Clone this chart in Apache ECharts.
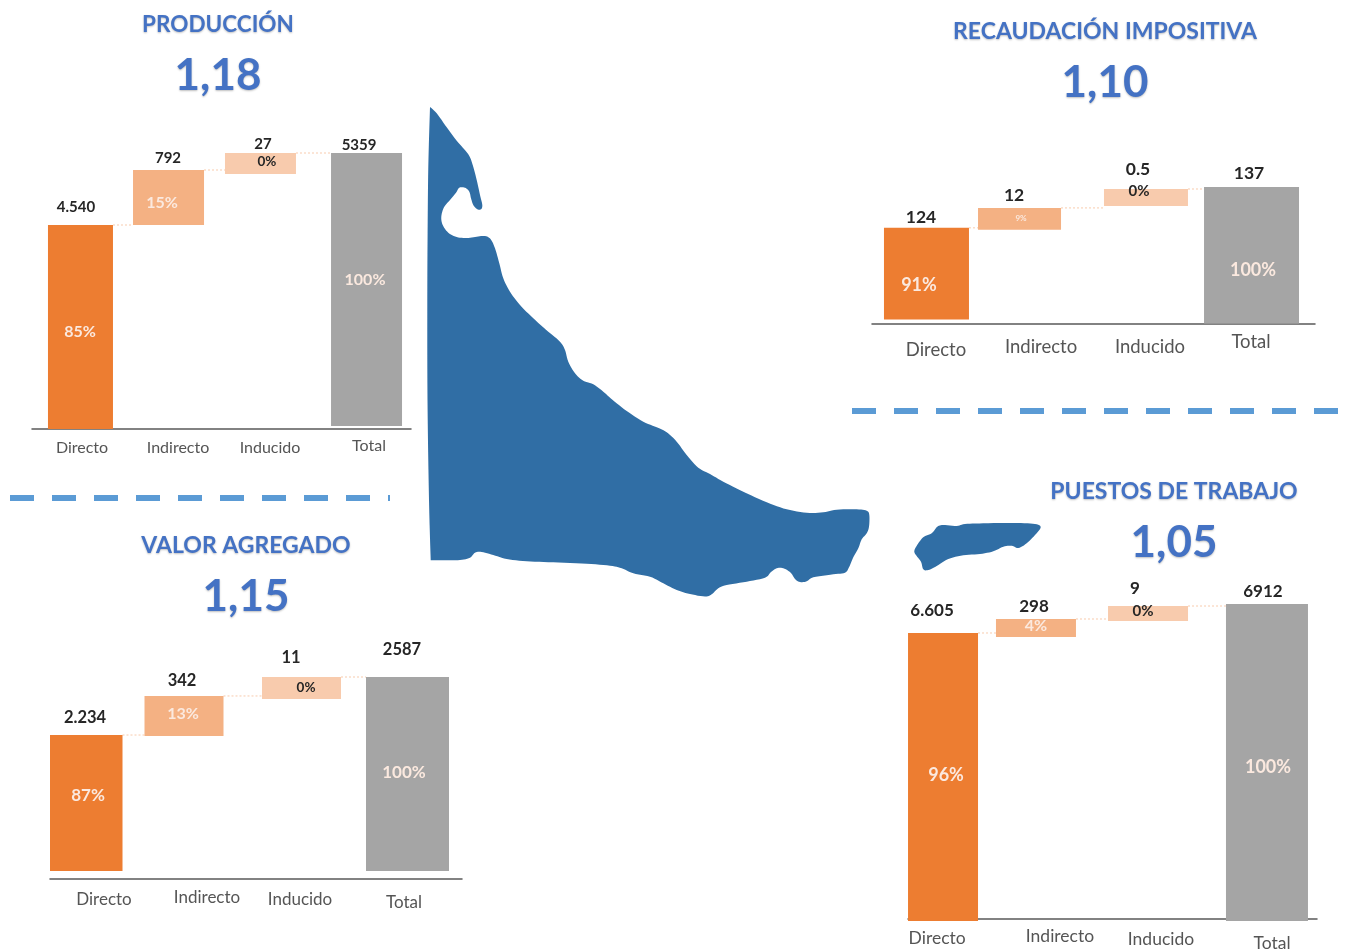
<!DOCTYPE html>
<html>
<head>
<meta charset="utf-8">
<style>html,body{margin:0;padding:0;background:#fff}#main{width:1346px;height:951px;filter:blur(0.35px)}</style>
<script src="https://cdn.jsdelivr.net/npm/echarts@6/dist/echarts.min.js"></script>
</head>
<body>
<div id="main"></div>
<script>
// ---- DATA ----
const categories = ['Directo', 'Indirecto', 'Inducido', 'Total'];

// Printed value labels and shares.
const produccionLabels = ['4.540', '792', '27', '5359'];
const produccionShares = ['85%', '15%', '0%', '100%'];
const valorLabels = ['2.234', '342', '11', '2587'];
const valorShares = ['87%', '13%', '0%', '100%'];
const recaudacionLabels = ['124', '12', '0.5', '137'];
const recaudacionShares = ['91%', '9%', '0%', '100%'];
const puestosLabels = ['6.605', '298', '9', '6912'];
const puestosShares = ['96%', '4%', '0%', '100%'];

// Bar extents as they are drawn in the picture (the source bars are not
// to scale with their printed labels), in units where the top equals the total.
const produccionLow = [0, 3961, 4951, 58];
const produccionHigh = [3961, 5029, 5359, 5359];
const valorLow = [102, 1831, 2305, 102];
const valorHigh = [1844, 2344, 2587, 2587];
const recaudacionLow = [4, 94, 118, 0];
const recaudacionHigh = [96, 116, 135, 137];
const puestosLow = [-44, 6188, 6539, -44];
const puestosHigh = [6276, 6583, 6868, 6912];

// Outline of the island (illustration, page pixels). Repeated points keep corners sharp.
const islandOutline = [[430,107],[430,107],[436.7,113.3],[446.7,127.3],[456.7,140.7],[468.3,154.3],[472.7,165],[476.7,180],[480,195],[482.3,205],[481,209.3],[477.3,209.3],[473.3,205],[471,198.3],[469.3,191.7],[465,187.7],[459.3,187.7],[456,192.7],[450,200],[444,207.3],[441.3,216.7],[442.7,225],[448.3,232.7],[456.7,237],[466.7,238],[476.7,236.7],[485,236],[490.7,239.3],[495,248.3],[499.3,263.3],[503.3,278.3],[510,291.7],[520,305],[533.3,318.3],[548.3,331.7],[560,341.7],[565,350],[568.3,361.7],[575,373.3],[583.3,380.7],[593.3,384.3],[603.3,391.7],[612.7,400],[626.7,411],[643.3,421.7],[656.7,427.3],[666.7,432.3],[676.7,441.7],[686.7,455],[698.3,467.7],[710,474],[723.3,481.7],[743.3,491.7],[766.7,502.3],[786.7,509.3],[806.7,512.7],[823.3,512.3],[836.7,509.7],[856.7,509.3],[866.7,510.7],[869.3,515],[869,526.7],[866.7,533.3],[861.7,539.3],[858.3,548.3],[853.3,557.3],[849,567.3],[845,572.7],[833.3,574.3],[813.3,577.3],[806.7,581.3],[800,582],[795,579],[790.7,572.7],[783.3,568.3],[776.7,568.3],[770.7,572.3],[765,577.7],[746.7,581.7],[726.7,585],[718.3,588.3],[711.7,594.3],[705,596.5],[690,594],[676.7,590],[663.3,583.3],[650,576.7],[633.3,573.3],[621.7,568.3],[610,565.7],[586.7,563.7],[553.3,562.3],[526.7,561.3],[506.7,559],[493.3,555],[481.7,552],[475,552.7],[470,557.7],[460,560],[445,560.3],[430.7,560.3],[430.7,560.3],[429,500],[427.5,400],[427.3,300],[427.6,233],[428.3,166.7]];
const smallIslandOutline = [[914.3,551],[918.3,543.3],[924,536.7],[931.7,533.3],[937.3,526.7],[943.3,525],[956.7,526],[965,524],[983.3,523.3],[1016.7,523],[1035,524],[1040.7,527.3],[1035,535],[1026.7,543.3],[1018.3,548],[1011.7,545.7],[1003.3,546.7],[993.3,551.3],[980,554],[963.3,555.3],[948.3,559],[936.7,566],[928.3,570],[923.3,569.3],[921,561.7],[916.7,556]];

// ---- LAYOUT / STYLE ----
const PALETTE = ['#ED7D31', '#F4B183', '#F8CBAD', '#A5A5A5'];
const BLUE = '#4472C4';
const FONT = 'Lato';
const LABEL_NUDGE = 1;

const charts = [
  { title: 'PRODUCCIÓN', index: '1,18', cx: 218, titleTop: 13, titleFont: 22.5,
    low: produccionLow, high: produccionHigh, labels: produccionLabels, shares: produccionShares,
    left: 32, width: 379, top: 153, bottom: 429, min: 0, max: 5359,
    barDx: [1.1, -5.6, -8.4, 2.9], barW: [65, 71, 71, 71],
    valFont: 15, valDx: [-4.5, -0.5, 2.5, -7.5], valDy: [-19, -13, -10, -9],
    shareFont: [16, 16, 13.5, 16], shareDx: [-0.5, -6.5, 6.5, -1.5], shareDy: [4, 4.5, -2.5, -10],
    catFont: 16, catDx: [2.6, 3.9, 1.1, 5.4], catDy: [17.5, 17.5, 17.5, 16] },
  { title: 'VALOR AGREGADO', index: '1,15', cx: 246, titleTop: 534, titleFont: 23,
    low: valorLow, high: valorHigh, labels: valorLabels, shares: valorShares,
    left: 50, width: 412, top: 677, bottom: 879, min: 0, max: 2587,
    barDx: [-15.25, -20.5, -6, -3], barW: [72.5, 79, 79, 83],
    valFont: 16.5, valDx: [-1.25, -2, -10.5, -5.5], valDy: [-18, -16, -20, -28],
    shareFont: [17, 16, 13.5, 17], shareDx: [1.75, -1, 4.5, -3.5], shareDy: [-8, -2.5, -1, -2],
    catFont: 17, catDx: [2.5, 2.5, -7.5, -6.5], catDy: [20, 18, 20, 23] },
  { title: 'RECAUDACIÓN IMPOSITIVA', index: '1,10', cx: 1105, titleTop: 19.5, titleFont: 23,
    low: recaudacionLow, high: recaudacionHigh, labels: recaudacionLabels, shares: recaudacionShares,
    left: 872, width: 443, top: 187, bottom: 323.5, min: 0, max: 137,
    barDx: [-0.9, -18.6, -2.9, -8.1], barW: [85, 83, 84, 95],
    valFont: 17.5, valDx: [-5.5, -5.5, -8, -2.5], valDy: [-11, -14, -21, -15],
    shareFont: [18, 8, 15, 18], shareDx: [-7.5, 1.5, -7, 1.5], shareDy: [11.25, -1, -6.5, 14],
    catFont: 18.5, catDx: [8.6, 2.9, 1.1, -8.6], catDy: [25.5, 22.5, 22.5, 17.5] },
  { title: 'PUESTOS DE TRABAJO', index: '1,05', cx: 1174, titleTop: 480, titleFont: 23,
    low: puestosLow, high: puestosHigh, labels: puestosLabels, shares: puestosShares,
    left: 908, width: 409, top: 604, bottom: 921, min: -44, max: 6912,
    barDx: [-16.1, -25.4, -15.6, 1.1], barW: [70, 80, 80, 82],
    valFont: 17, valDx: [-11, -2, -13, -4], valDy: [-23, -13, -18, -13],
    shareFont: [18, 16, 15, 18], shareDx: [3, 0, -5, 1], shareDy: [-2, -3, -2.5, 4.5],
    catFont: 17.5, catDx: [-22, -1.4, -2.6, 6.1], catDy: [16, 14, 17, 21] }
];

// Sample a closed Catmull-Rom curve through the outline points.
function closedCurve(pts) {
  const n = pts.length, out = [];
  for (let i = 0; i < n; i++) {
    const p0 = pts[(i - 1 + n) % n], p1 = pts[i], p2 = pts[(i + 1) % n], p3 = pts[(i + 2) % n];
    if (p1[0] === p2[0] && p1[1] === p2[1]) { out.push(p1.slice()); continue; }
    for (let s = 0; s < 6; s++) {
      const t = s / 6, t2 = t * t, t3 = t2 * t;
      out.push([0, 1].map(k => 0.5 * (2 * p1[k] + (p2[k] - p0[k]) * t +
        (2 * p0[k] - 5 * p1[k] + 4 * p2[k] - p3[k]) * t2 +
        (3 * p1[k] - p0[k] - 3 * p2[k] + p3[k]) * t3)));
    }
  }
  return out;
}

function shareColor(i) { return i === 2 ? '#262626' : '#FBE9DF'; }

function makeSeries(c, gridIndex) {
  const rows = categories.map((_, i) => [i, c.low[i], c.high[i]]);
  return {
    type: 'custom',
    xAxisIndex: gridIndex, yAxisIndex: gridIndex,
    silent: true,
    clip: false,
    encode: { x: 0, y: [1, 2] },
    data: rows,
    renderItem: function (params, api) {
      const i = api.value(0), lo = api.value(1), hi = api.value(2);
      const ptHi = api.coord([i, hi]), ptLo = api.coord([i, lo]);
      const cx = ptHi[0] + c.barDx[i], w = c.barW[i];
      const children = [];
      if (i < categories.length - 1) {
        const nx = api.coord([i + 1, hi])[0] + c.barDx[i + 1] - c.barW[i + 1] / 2;
        children.push({
          type: 'line',
          shape: { x1: cx + w / 2, y1: ptHi[1], x2: nx, y2: ptHi[1] },
          style: { stroke: '#F8CBAD', lineWidth: 1, lineDash: [2, 2] }
        });
      }
      children.push({
        type: 'rect',
        shape: { x: cx - w / 2, y: ptHi[1], width: w, height: ptLo[1] - ptHi[1] },
        style: { fill: PALETTE[i] }
      });
      children.push({
        type: 'text',
        style: {
          text: c.labels[i], x: cx + c.valDx[i], y: ptHi[1] + c.valDy[i] + LABEL_NUDGE,
          align: 'center', verticalAlign: 'middle',
          fontFamily: FONT, fontWeight: 'bold', fontSize: c.valFont, fill: '#262626'
        }
      });
      children.push({
        type: 'text',
        style: {
          text: c.shares[i], x: cx + c.shareDx[i], y: (ptHi[1] + ptLo[1]) / 2 + c.shareDy[i] + LABEL_NUDGE / 2,
          align: 'center', verticalAlign: 'middle',
          fontFamily: FONT, fontWeight: 'bold', fontSize: c.shareFont[i], fill: shareColor(i)
        }
      });
      return { type: 'group', children: children };
    }
  };
}

const option = {
  backgroundColor: '#fff',
  animation: false,
  title: charts.map(c => ({
    text: c.title, subtext: c.index,
    left: c.cx, top: c.titleTop, textAlign: 'center', padding: 0, itemGap: 17,
    textStyle: { fontFamily: FONT, fontWeight: 'bold', fontSize: c.titleFont, color: BLUE, lineHeight: 24,
      textShadowColor: 'rgba(0,0,0,0.25)', textShadowBlur: 2, textShadowOffsetY: 1 },
    subtextStyle: { fontFamily: FONT, fontWeight: 'bold', fontSize: 44, color: BLUE, lineHeight: 44,
      textShadowColor: 'rgba(0,0,0,0.25)', textShadowBlur: 2, textShadowOffsetY: 1 }
  })),
  grid: charts.map(c => ({ left: c.left, width: c.width, top: c.top, height: c.bottom - c.top, containLabel: false, outerBoundsMode: 'none' })),
  xAxis: charts.map((c, g) => ({
    type: 'category', gridIndex: g,
    data: categories.map((name, i) => {
      const dx = c.catDx[i];
      const topPad = Math.max(0, c.catDy[i] + LABEL_NUDGE - c.catFont / 2);
      return { value: name, textStyle: { padding: [topPad, dx < 0 ? -2 * dx : 0, 0, dx > 0 ? 2 * dx : 0] } };
    }),
    axisLine: { show: true, onZero: true, lineStyle: { color: '#595959', width: 1.5 } },
    axisTick: { show: false },
    axisLabel: { interval: 0, margin: 0, hideOverlap: false, fontFamily: FONT, fontSize: c.catFont, color: '#555555' },
    splitLine: { show: false }
  })),
  yAxis: charts.map((c, g) => ({ type: 'value', gridIndex: g, min: c.min, max: c.max, show: false, splitLine: { show: false } })),
  series: charts.map(makeSeries),
  graphic: [
    { type: 'polygon', shape: { points: closedCurve(islandOutline) }, style: { fill: '#306EA5' }, silent: true },
    { type: 'polygon', shape: { points: closedCurve(smallIslandOutline) }, style: { fill: '#306EA5' }, silent: true },
    { type: 'line', shape: { x1: 10, y1: 498, x2: 390, y2: 498 }, style: { stroke: '#5B9BD5', lineWidth: 6, lineDash: [24, 18] }, silent: true },
    { type: 'line', shape: { x1: 852, y1: 411, x2: 1338, y2: 411 }, style: { stroke: '#5B9BD5', lineWidth: 6, lineDash: [24, 18] }, silent: true }
  ]
};

const chart = echarts.init(document.getElementById('main'), null, { renderer: 'canvas', width: 1346, height: 951 });
chart.setOption(option);
</script>
</body>
</html>
